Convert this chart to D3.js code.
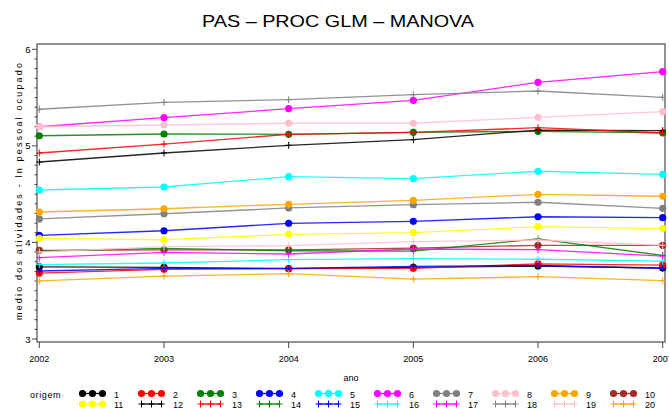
<!DOCTYPE html>
<html>
<head>
<meta charset="utf-8">
<script src="https://cdn.jsdelivr.net/npm/d3@7"></script>
<style>
  html, body { margin: 0; padding: 0; background: #fff; }
  svg { display: block; }
  text { font-family: "Liberation Sans", Arial, sans-serif; fill: #000; }
</style>
</head>
<body>
<svg id="chart" width="669" height="410"></svg>
<script>
// Anos observados
const anos = [2002, 2003, 2004, 2005, 2006, 2007];

// Média por origem (ln pessoal ocupado)
const o1  = [3.746, 3.742, 3.728, 3.742, 3.756, 3.735];
const o2  = [3.683, 3.722, 3.728, 3.732, 3.777, 3.766];
const o3  = [5.105, 5.123, 5.120, 5.140, 5.151, 5.136];
const o4  = [4.074, 4.121, 4.198, 4.219, 4.266, 4.256];
const o5  = [4.543, 4.574, 4.681, 4.660, 4.737, 4.705];
const o6  = [5.198, 5.292, 5.385, 5.472, 5.658, 5.768];
const o7  = [4.243, 4.297, 4.357, 4.391, 4.416, 4.353];
const o8  = [5.198, 5.216, 5.234, 5.234, 5.296, 5.354];
const o9  = [4.315, 4.349, 4.395, 4.436, 4.498, 4.478];
const o10 = [3.918, 3.922, 3.922, 3.942, 3.970, 3.970];
const o11 = [4.041, 4.028, 4.084, 4.101, 4.163, 4.144];
const o12 = [4.833, 4.926, 5.006, 5.064, 5.164, 5.157];
const o13 = [4.926, 5.019, 5.120, 5.140, 5.188, 5.133];
const o14 = [3.911, 3.939, 3.914, 3.911, 4.036, 3.865];
const o15 = [3.704, 3.732, 3.732, 3.753, 3.761, 3.732];
const o16 = [3.771, 3.787, 3.821, 3.832, 3.826, 3.806];
const o17 = [3.842, 3.898, 3.880, 3.932, 3.925, 3.859];
const o18 = [5.379, 5.451, 5.478, 5.530, 5.568, 5.503];
const o19 = [3.901, 3.956, 3.966, 4.008, 4.025, 3.970];
const o20 = [3.601, 3.652, 3.676, 3.621, 3.645, 3.604];

const origens = ["1","2","3","4","5","6","7","8","9","10",
                 "11","12","13","14","15","16","17","18","19","20"];
const valores = [o1,o2,o3,o4,o5,o6,o7,o8,o9,o10,o11,o12,o13,o14,o15,o16,o17,o18,o19,o20];

const cores = ["#000000","#ff0000","#008000","#0000ff","#00ffff","#ff00ff","#808080","#ffc0cb","#ffa500","#a52a2a",
               "#ffff00","#000000","#ff0000","#008000","#0000ff","#00ffff","#ff00ff","#808080","#ffc0cb","#ffa500"];
const simbolos = ["dot","dot","dot","dot","dot","dot","dot","dot","dot","dot",
                  "dot","plus","plus","plus","plus","plus","plus","plus","plus","plus"];

const yTicks = [3, 4, 5, 6];

const titulo = "PAS  \u2013  PROC GLM  \u2013  MANOVA";
const rotuloY = "medio dos atividades - ln pessoal ocupado";
const rotuloX = "ano";
const rotuloLegenda = "origem";

const svg = d3.select("#chart");

const frame = { left: 37, right: 665, top: 44, bottom: 342 };
const x = d3.scaleLinear().domain([2002, 2007]).range([39.3, 662.7]);
const y = d3.scaleLinear().domain([3, 6]).range([339, 49.3]);

// Título
svg.append("text")
  .attr("x", 338).attr("y", 27)
  .attr("text-anchor", "middle")
  .attr("font-size", 17)
  .attr("textLength", 272)
  .attr("lengthAdjust", "spacingAndGlyphs")
  .text(titulo);

// Moldura
svg.append("rect")
  .attr("x", frame.left).attr("y", frame.top)
  .attr("width", frame.right - frame.left)
  .attr("height", frame.bottom - frame.top)
  .attr("fill", "none")
  .attr("stroke", "#666")
  .attr("stroke-width", 1.4);

// Eixo Y: marcas maiores e menores
const yMinor = d3.range(30, 61).map(d => d / 10);
svg.append("g").selectAll("line").data(yMinor).join("line")
  .attr("x1", d => (Math.abs(d - Math.round(d)) < 1e-9 ? 32 : 34.5))
  .attr("x2", frame.left)
  .attr("y1", d => y(d)).attr("y2", d => y(d))
  .attr("stroke", "#444").attr("stroke-width", 1);
svg.append("g").selectAll("text").data(yTicks).join("text")
  .attr("x", 30.5).attr("y", d => y(d) + 3.5)
  .attr("text-anchor", "end")
  .attr("font-size", 9.5)
  .text(d => d);

// Eixo X
svg.append("g").selectAll("line").data(anos).join("line")
  .attr("x1", d => x(d)).attr("x2", d => x(d))
  .attr("y1", frame.bottom).attr("y2", frame.bottom + 6)
  .attr("stroke", "#444").attr("stroke-width", 1);
svg.append("g").selectAll("text").data(anos).join("text")
  .attr("x", d => x(d)).attr("y", 362)
  .attr("text-anchor", "middle")
  .attr("font-size", 9)
  .text(d => d);

svg.append("text")
  .attr("x", 351).attr("y", 381)
  .attr("text-anchor", "middle")
  .attr("font-size", 9)
  .text(rotuloX);

// Rótulo do eixo Y
svg.append("text")
  .attr("transform", "translate(21.5,191.5) rotate(-90)")
  .attr("text-anchor", "middle")
  .attr("font-size", 9)
  .attr("textLength", 257)
  .attr("lengthAdjust", "spacing")
  .text(rotuloY);

// Marcadores
function desenhaMarcador(g, tipo, cx, cy, cor) {
  if (tipo === "dot") {
    g.append("circle").attr("cx", cx).attr("cy", cy).attr("r", 3.6).attr("fill", cor);
  } else {
    g.append("line").attr("x1", cx - 3).attr("x2", cx + 3).attr("y1", cy).attr("y2", cy)
      .attr("stroke", cor).attr("stroke-width", 1);
    g.append("line").attr("x1", cx).attr("x2", cx).attr("y1", cy - 3.5).attr("y2", cy + 3.5)
      .attr("stroke", cor).attr("stroke-width", 1);
  }
}

// Séries
const linha = d3.line().x((d, i) => x(anos[i])).y(d => y(d));
const plot = svg.append("g");
valores.forEach((vals, k) => {
  const g = plot.append("g");
  g.append("path")
    .attr("d", linha(vals))
    .attr("fill", "none")
    .attr("stroke", cores[k])
    .attr("stroke-width", 1.3)
    .attr("stroke-opacity", 0.85);
  vals.forEach((v, i) => desenhaMarcador(g, simbolos[k], x(anos[i]), y(v), cores[k]));
});

// Legenda
const leg = svg.append("g");
leg.append("text")
  .attr("x", 30).attr("y", 397.5)
  .attr("font-size", 9)
  .attr("letter-spacing", 0.6)
  .text(rotuloLegenda);

origens.forEach((nome, k) => {
  const col = k % 10, row = Math.floor(k / 10);
  const x0 = 79 + 59 * col;
  const cy = 393.5 + row * 10.5;
  const g = leg.append("g");
  g.append("line").attr("x1", x0 + 3).attr("x2", x0 + 24).attr("y1", cy).attr("y2", cy)
    .attr("stroke", cores[k]).attr("stroke-width", 1.3);
  [x0 + 3.5, x0 + 13.5, x0 + 23.5].forEach(cx => desenhaMarcador(g, simbolos[k], cx, cy, cores[k]));
  g.append("text")
    .attr("x", x0 + 35).attr("y", cy + 4)
    .attr("font-size", 9)
    .text(nome);
});
</script>
</body>
</html>
